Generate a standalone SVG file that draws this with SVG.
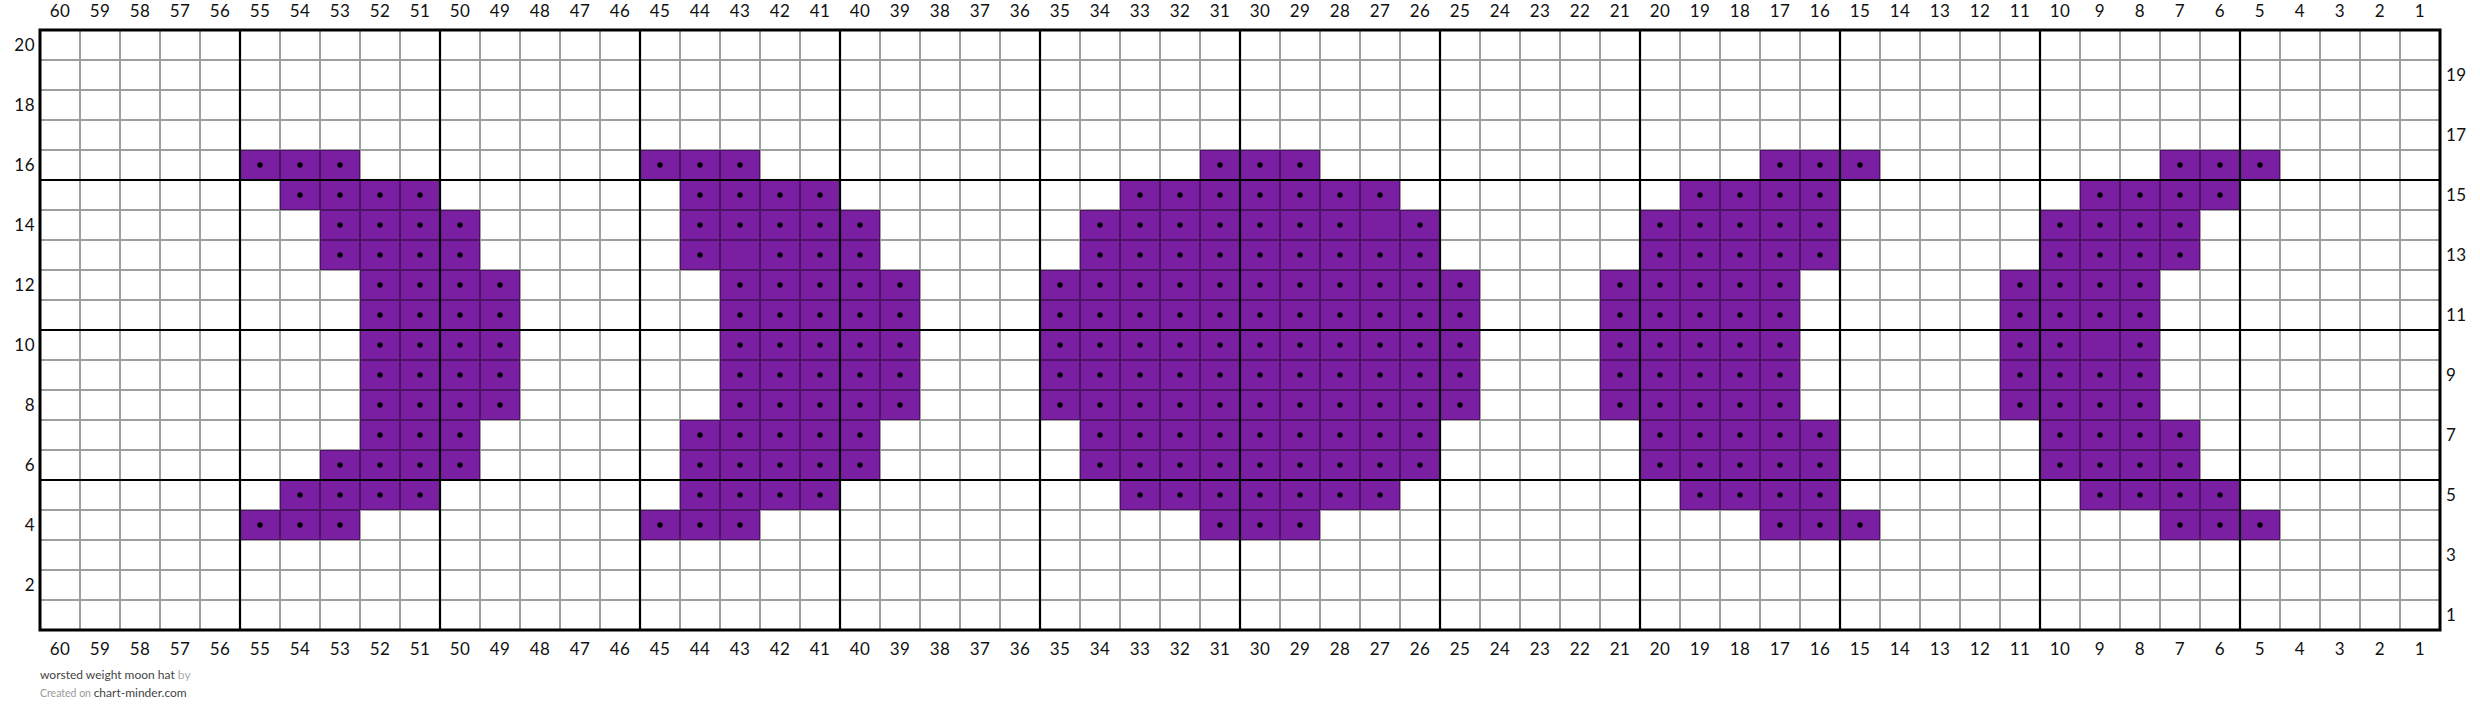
<svg xmlns="http://www.w3.org/2000/svg" xmlns:xlink="http://www.w3.org/1999/xlink" width="2480" height="723" viewBox="0 0 2480 723">
<style>
.lbl{font-family:Lato,"Liberation Sans",sans-serif;font-size:17px;fill:#111;letter-spacing:0.5px}
.top,.bot{text-anchor:middle}
.left{text-anchor:end}
.right{text-anchor:start}
.thin{fill:none;stroke:#000;stroke-opacity:0.38;stroke-width:2}
.thick{fill:none;stroke:#000;stroke-width:2.2}
.foot{font-family:Lato,"Liberation Sans",sans-serif}
</style>
<defs>
<pattern id="dots" patternUnits="userSpaceOnUse" x="40" y="30" width="40" height="30">
<circle cx="20" cy="15" r="2.7" fill="#000"/>
</pattern>
<g id="runs">
<!-- moon 1 -->
<rect x="240" y="150" width="120" height="30"/>
<rect x="280" y="180" width="160" height="30"/>
<rect x="320" y="210" width="160" height="60"/>
<rect x="360" y="270" width="160" height="150"/>
<rect x="360" y="420" width="120" height="30"/>
<rect x="320" y="450" width="160" height="30"/>
<rect x="280" y="480" width="160" height="30"/>
<rect x="240" y="510" width="120" height="30"/>
<!-- moon 2 -->
<rect x="640" y="150" width="120" height="30"/>
<rect x="680" y="180" width="160" height="30"/>
<rect x="680" y="210" width="200" height="60"/>
<rect x="720" y="270" width="200" height="150"/>
<rect x="680" y="420" width="200" height="60"/>
<rect x="680" y="480" width="160" height="30"/>
<rect x="640" y="510" width="120" height="30"/>
<!-- moon 3 -->
<rect x="1200" y="150" width="120" height="30"/>
<rect x="1120" y="180" width="280" height="30"/>
<rect x="1080" y="210" width="360" height="60"/>
<rect x="1040" y="270" width="440" height="150"/>
<rect x="1080" y="420" width="360" height="60"/>
<rect x="1120" y="480" width="280" height="30"/>
<rect x="1200" y="510" width="120" height="30"/>
<!-- moon 4 -->
<rect x="1760" y="150" width="120" height="30"/>
<rect x="1680" y="180" width="160" height="30"/>
<rect x="1640" y="210" width="200" height="60"/>
<rect x="1600" y="270" width="200" height="150"/>
<rect x="1640" y="420" width="200" height="60"/>
<rect x="1680" y="480" width="160" height="30"/>
<rect x="1760" y="510" width="120" height="30"/>
<!-- moon 5 -->
<rect x="2160" y="150" width="120" height="30"/>
<rect x="2080" y="180" width="160" height="30"/>
<rect x="2040" y="210" width="160" height="60"/>
<rect x="2000" y="270" width="160" height="150"/>
<rect x="2040" y="420" width="160" height="60"/>
<rect x="2080" y="480" width="160" height="30"/>
<rect x="2160" y="510" width="120" height="30"/>
</g>
</defs>
<rect width="2480" height="723" fill="#fff"/>
<g id="cells">
<use xlink:href="#runs" href="#runs" fill="#7b1fa2"/>
<use xlink:href="#runs" href="#runs" fill="url(#dots)"/>
<rect x="720" y="240" width="40" height="30" fill="#7b1fa2"/>
<rect x="1360" y="210" width="40" height="30" fill="#7b1fa2"/>
<rect x="2080" y="330" width="40" height="30" fill="#7b1fa2"/>
</g>
<g id="grid">
<path class="thin" d="M80 30V630M120 30V630M160 30V630M200 30V630M280 30V630M320 30V630M360 30V630M400 30V630M480 30V630M520 30V630M560 30V630M600 30V630M680 30V630M720 30V630M760 30V630M800 30V630M880 30V630M920 30V630M960 30V630M1000 30V630M1080 30V630M1120 30V630M1160 30V630M1200 30V630M1280 30V630M1320 30V630M1360 30V630M1400 30V630M1480 30V630M1520 30V630M1560 30V630M1600 30V630M1680 30V630M1720 30V630M1760 30V630M1800 30V630M1880 30V630M1920 30V630M1960 30V630M2000 30V630M2080 30V630M2120 30V630M2160 30V630M2200 30V630M2280 30V630M2320 30V630M2360 30V630M2400 30V630M40 60H2440M40 90H2440M40 120H2440M40 150H2440M40 210H2440M40 240H2440M40 270H2440M40 300H2440M40 360H2440M40 390H2440M40 420H2440M40 450H2440M40 510H2440M40 540H2440M40 570H2440M40 600H2440"/>
<path class="thick" d="M240 30V630M440 30V630M640 30V630M840 30V630M1040 30V630M1240 30V630M1440 30V630M1640 30V630M1840 30V630M2040 30V630M2240 30V630M40 180H2440M40 330H2440M40 480H2440"/>
<rect x="40" y="30" width="2400" height="600" fill="none" stroke="#000" stroke-width="3"/>
</g>
<g id="col-labels-top" class="lbl top">
<text x="60" y="17">60</text><text x="100" y="17">59</text><text x="140" y="17">58</text><text x="180" y="17">57</text><text x="220" y="17">56</text><text x="260" y="17">55</text><text x="300" y="17">54</text><text x="340" y="17">53</text><text x="380" y="17">52</text><text x="420" y="17">51</text><text x="460" y="17">50</text><text x="500" y="17">49</text><text x="540" y="17">48</text><text x="580" y="17">47</text><text x="620" y="17">46</text><text x="660" y="17">45</text><text x="700" y="17">44</text><text x="740" y="17">43</text><text x="780" y="17">42</text><text x="820" y="17">41</text><text x="860" y="17">40</text><text x="900" y="17">39</text><text x="940" y="17">38</text><text x="980" y="17">37</text><text x="1020" y="17">36</text><text x="1060" y="17">35</text><text x="1100" y="17">34</text><text x="1140" y="17">33</text><text x="1180" y="17">32</text><text x="1220" y="17">31</text><text x="1260" y="17">30</text><text x="1300" y="17">29</text><text x="1340" y="17">28</text><text x="1380" y="17">27</text><text x="1420" y="17">26</text><text x="1460" y="17">25</text><text x="1500" y="17">24</text><text x="1540" y="17">23</text><text x="1580" y="17">22</text><text x="1620" y="17">21</text><text x="1660" y="17">20</text><text x="1700" y="17">19</text><text x="1740" y="17">18</text><text x="1780" y="17">17</text><text x="1820" y="17">16</text><text x="1860" y="17">15</text><text x="1900" y="17">14</text><text x="1940" y="17">13</text><text x="1980" y="17">12</text><text x="2020" y="17">11</text><text x="2060" y="17">10</text><text x="2100" y="17">9</text><text x="2140" y="17">8</text><text x="2180" y="17">7</text><text x="2220" y="17">6</text><text x="2260" y="17">5</text><text x="2300" y="17">4</text><text x="2340" y="17">3</text><text x="2380" y="17">2</text><text x="2420" y="17">1</text>
</g>
<g id="col-labels-bottom" class="lbl bot">
<text x="60" y="655">60</text><text x="100" y="655">59</text><text x="140" y="655">58</text><text x="180" y="655">57</text><text x="220" y="655">56</text><text x="260" y="655">55</text><text x="300" y="655">54</text><text x="340" y="655">53</text><text x="380" y="655">52</text><text x="420" y="655">51</text><text x="460" y="655">50</text><text x="500" y="655">49</text><text x="540" y="655">48</text><text x="580" y="655">47</text><text x="620" y="655">46</text><text x="660" y="655">45</text><text x="700" y="655">44</text><text x="740" y="655">43</text><text x="780" y="655">42</text><text x="820" y="655">41</text><text x="860" y="655">40</text><text x="900" y="655">39</text><text x="940" y="655">38</text><text x="980" y="655">37</text><text x="1020" y="655">36</text><text x="1060" y="655">35</text><text x="1100" y="655">34</text><text x="1140" y="655">33</text><text x="1180" y="655">32</text><text x="1220" y="655">31</text><text x="1260" y="655">30</text><text x="1300" y="655">29</text><text x="1340" y="655">28</text><text x="1380" y="655">27</text><text x="1420" y="655">26</text><text x="1460" y="655">25</text><text x="1500" y="655">24</text><text x="1540" y="655">23</text><text x="1580" y="655">22</text><text x="1620" y="655">21</text><text x="1660" y="655">20</text><text x="1700" y="655">19</text><text x="1740" y="655">18</text><text x="1780" y="655">17</text><text x="1820" y="655">16</text><text x="1860" y="655">15</text><text x="1900" y="655">14</text><text x="1940" y="655">13</text><text x="1980" y="655">12</text><text x="2020" y="655">11</text><text x="2060" y="655">10</text><text x="2100" y="655">9</text><text x="2140" y="655">8</text><text x="2180" y="655">7</text><text x="2220" y="655">6</text><text x="2260" y="655">5</text><text x="2300" y="655">4</text><text x="2340" y="655">3</text><text x="2380" y="655">2</text><text x="2420" y="655">1</text>
</g>
<g id="row-labels-left" class="lbl left">
<text x="35" y="51">20</text><text x="35" y="111">18</text><text x="35" y="171">16</text><text x="35" y="231">14</text><text x="35" y="291">12</text><text x="35" y="351">10</text><text x="35" y="411">8</text><text x="35" y="471">6</text><text x="35" y="531">4</text><text x="35" y="591">2</text>
</g>
<g id="row-labels-right" class="lbl right">
<text x="2446" y="81">19</text><text x="2446" y="141">17</text><text x="2446" y="201">15</text><text x="2446" y="261">13</text><text x="2446" y="321">11</text><text x="2446" y="381">9</text><text x="2446" y="441">7</text><text x="2446" y="501">5</text><text x="2446" y="561">3</text><text x="2446" y="621">1</text>
</g>
<g id="footer" class="foot">
<text x="40" y="679" font-size="12" fill="#444">worsted weight moon hat <tspan fill="#aaa">by</tspan></text>
<text x="40" y="697" font-size="10.5" fill="#999">Created on <tspan font-size="12" fill="#444">chart-minder.com</tspan></text>
</g>
</svg>
